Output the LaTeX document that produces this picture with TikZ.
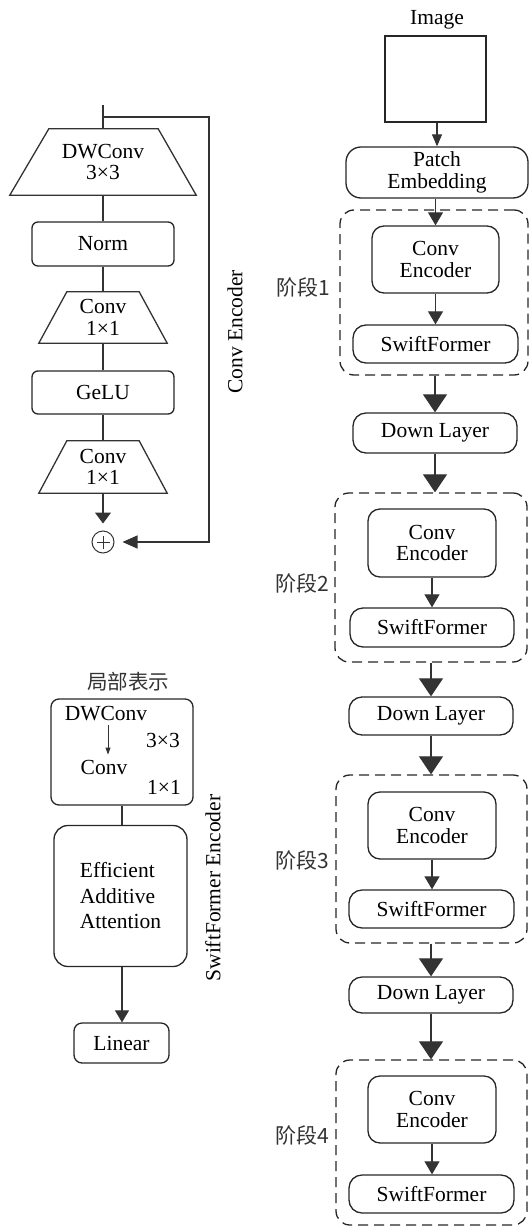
\documentclass[tikz,border=0pt]{standalone}
\usepackage{fontspec}
\setmainfont{Liberation Serif}
\newfontfamily\cjk{Noto Sans CJK SC}
\usetikzlibrary{arrows.meta,calc}

\begin{document}
\begin{tikzpicture}[x=1pt,y=-1pt,
  font=\fontsize{21.5}{21.5}\selectfont,
  rbox/.style={draw=black!85, line width=1.3pt, rounded corners=#1, inner sep=0pt, align=center},
  sqbox/.style={draw=black!85, line width=1.2pt, inner sep=0pt},
  plain/.style={inner sep=0pt, align=center},
  stagebox/.style={draw=black!85, line width=1.3pt, dash pattern=on 10pt off 6pt, rounded corners=14pt, inner sep=0pt},
  ln/.style={draw=black!80, line width=1.1pt},
  tipbig/.style={ln, -{Triangle[length=18pt,width=24pt]}},
  tipmid/.style={ln, -{Triangle[length=13pt,width=15pt]}},
  tipsmall/.style={ln, -{Triangle[length=12pt,width=10pt]}},
  tiptiny/.style={ln, -{Triangle[length=7pt,width=5pt]}},
  stagelabel/.style={anchor=east, inner sep=0pt, font=\cjk\fontsize{21}{22}\selectfont, text=black!80},
  sidelabel/.style={rotate=90, inner sep=0pt}
]
\useasboundingbox (0,0) rectangle (529,1228);

% ---------------- Conv Encoder (upper left) ----------------
\coordinate (cin) at (103,105);
\coordinate (split) at (103,117);
\coordinate (fbr) at (209,117);
\coordinate (fbb) at (209,542);

\node[plain, minimum width=186, minimum height=66] (dw) at (103,162) {DWConv\\3×3};
\draw[ln, line width=1.3pt] (dw.south west) -- ([xshift=39pt]dw.north west) -- ([xshift=-38pt]dw.north east) -- (dw.south east) -- cycle;

\node[rbox=6pt, minimum width=142, minimum height=44] (norm) at (103,244) {Norm};

\node[plain, minimum width=128, minimum height=51] (ca) at (103,317.5) {Conv\\1×1};
\draw[ln, line width=1.3pt] (ca.south west) -- ([xshift=28pt]ca.north west) -- ([xshift=-28pt]ca.north east) -- (ca.south east) -- cycle;

\node[rbox=6pt, minimum width=142, minimum height=43] (gelu) at (103,392.5) {GeLU};

\node[plain, minimum width=128, minimum height=52] (cb) at (103,467) {Conv\\1×1};
\draw[ln, line width=1.3pt] (cb.south west) -- ([xshift=28pt]cb.north west) -- ([xshift=-28pt]cb.north east) -- (cb.south east) -- cycle;

\node[draw=black!80, line width=1pt, circle, inner sep=0pt, minimum size=22] (plus) at (103,542) {};
\draw[ln, line width=0.9pt] ([xshift=-6.5pt]plus.center) -- ([xshift=6.5pt]plus.center);
\draw[ln, line width=0.9pt] ([yshift=-6.5pt]plus.center) -- ([yshift=6.5pt]plus.center);

\draw[ln] (cin) -- (dw.north);
\draw[ln] (dw.south) -- (norm.north);
\draw[ln] (norm.south) -- (ca.north);
\draw[ln] (ca.south) -- (gelu.north);
\draw[ln] (gelu.south) -- (cb.north);
\draw[ln, -{Triangle[length=11pt,width=16pt]}, shorten >=7pt] (cb.south) -- (plus.north);
\draw[ln, -{Triangle[length=15pt,width=13pt]}, shorten >=8pt] (split) -- (fbr) -- (fbb) -- (plus.east);

\node[sidelabel] (celab) at (235,332) {Conv Encoder};

% ---------------- SwiftFormer Encoder (lower left) ----------------
\node[inner sep=0pt, font=\cjk\fontsize{20.5}{22}\selectfont, text=black!80] (jbbs) at (128,682) {局部表示};
\node[rbox=8pt, minimum width=142, minimum height=106] (local) at (122,752) {};
\node[plain] (dwc) at (106,714) {DWConv};
\node[plain] (k33) at (163,740) {3×3};
\node[plain] (cvn) at (104,767) {Conv};
\node[plain] (k11) at (164,787) {1×1};
\draw[tiptiny, line width=0.9pt, shorten <=4pt, shorten >=5pt] ([xshift=2pt]dwc.south) -- ([xshift=4pt]cvn.north);

\node[rbox=14pt, minimum width=133, minimum height=141, align=left,
      font=\fontsize{21.5}{25.5}\selectfont] (att) at (120.5,896) {Efficient\\Additive\\Attention};
\node[rbox=8pt, minimum width=95, minimum height=40] (lin) at (121.5,1043) {Linear};

\draw[ln] (local.south) -- (local.south |- att.north);
\draw[ln, -{Triangle[length=12pt,width=14pt]}] (local.south |- att.south) -- (local.south |- lin.north);

\node[sidelabel] (sflab) at (213,888) {SwiftFormer Encoder};

% ---------------- Backbone (right) ----------------
\node[inner sep=0pt] (imglab) at (437,20) {Image};
\node[sqbox, minimum width=101, minimum height=86] (img) at (435.5,79) {};
\node[rbox=15pt, minimum width=182, minimum height=51] (patch) at (437,172.5) {Patch\\Embedding};

% stage 1
\node[stagebox, minimum width=188, minimum height=165] (st1) at (434,292.5) {};
\node[rbox=12pt, minimum width=127, minimum height=67] (ce1) at (435.5,259.5) {Conv\\Encoder};
\node[rbox=13pt, minimum width=165, minimum height=38] (sf1) at (435.5,344) {SwiftFormer};
\node[stagelabel] (lab1) at (330,287) {阶段1};

\node[rbox=13pt, minimum width=164, minimum height=40] (dl1) at (435,433) {Down Layer};

% stage 2
\node[stagebox, minimum width=192, minimum height=169] (st2) at (431,577.5) {};
\node[rbox=12pt, minimum width=128, minimum height=68] (ce2) at (432,543) {Conv\\Encoder};
\node[rbox=13pt, minimum width=164, minimum height=39] (sf2) at (432,627.5) {SwiftFormer};
\node[stagelabel] (lab2) at (329,583) {阶段2};

\node[rbox=13pt, minimum width=164, minimum height=38] (dl2) at (431,716) {Down Layer};

% stage 3
\node[stagebox, minimum width=191, minimum height=168] (st3) at (431.5,859) {};
\node[rbox=12pt, minimum width=128, minimum height=67] (ce3) at (432,825.5) {Conv\\Encoder};
\node[rbox=13pt, minimum width=165, minimum height=38] (sf3) at (431.5,909) {SwiftFormer};
\node[stagelabel] (lab3) at (329,860) {阶段3};

\node[rbox=13pt, minimum width=164, minimum height=36] (dl3) at (431,995) {Down Layer};

% stage 4
\node[stagebox, minimum width=191, minimum height=165] (st4) at (431.5,1142.5) {};
\node[rbox=12pt, minimum width=128, minimum height=67] (ce4) at (432,1109.5) {Conv\\Encoder};
\node[rbox=13pt, minimum width=165, minimum height=38] (sf4) at (431.5,1194) {SwiftFormer};
\node[stagelabel] (lab4) at (329,1135) {阶段4};

% connectors
\draw[tipsmall] (patch.north |- img.south) -- (patch.north);
\draw[tipmid] (patch.south -| ce1.north) -- (ce1.north);
\draw[tipmid] (ce1.south) -- (ce1.south |- sf1.north);
\draw[tipbig] (dl1.north |- st1.south) -- (dl1.north);
\draw[tipbig] (dl1.south) -- (dl1.south |- st2.north);
\draw[tipmid] (ce2.south) -- (ce2.south |- sf2.north);
\draw[tipbig] (dl2.north |- st2.south) -- (dl2.north);
\draw[tipbig] (dl2.south) -- (dl2.south |- st3.north);
\draw[tipmid] (ce3.south) -- (ce3.south |- sf3.north);
\draw[tipbig] (dl3.north |- st3.south) -- (dl3.north);
\draw[tipbig] (dl3.south) -- (dl3.south |- st4.north);
\draw[tipmid] (ce4.south) -- (ce4.south |- sf4.north);
\end{tikzpicture}
\end{document}
